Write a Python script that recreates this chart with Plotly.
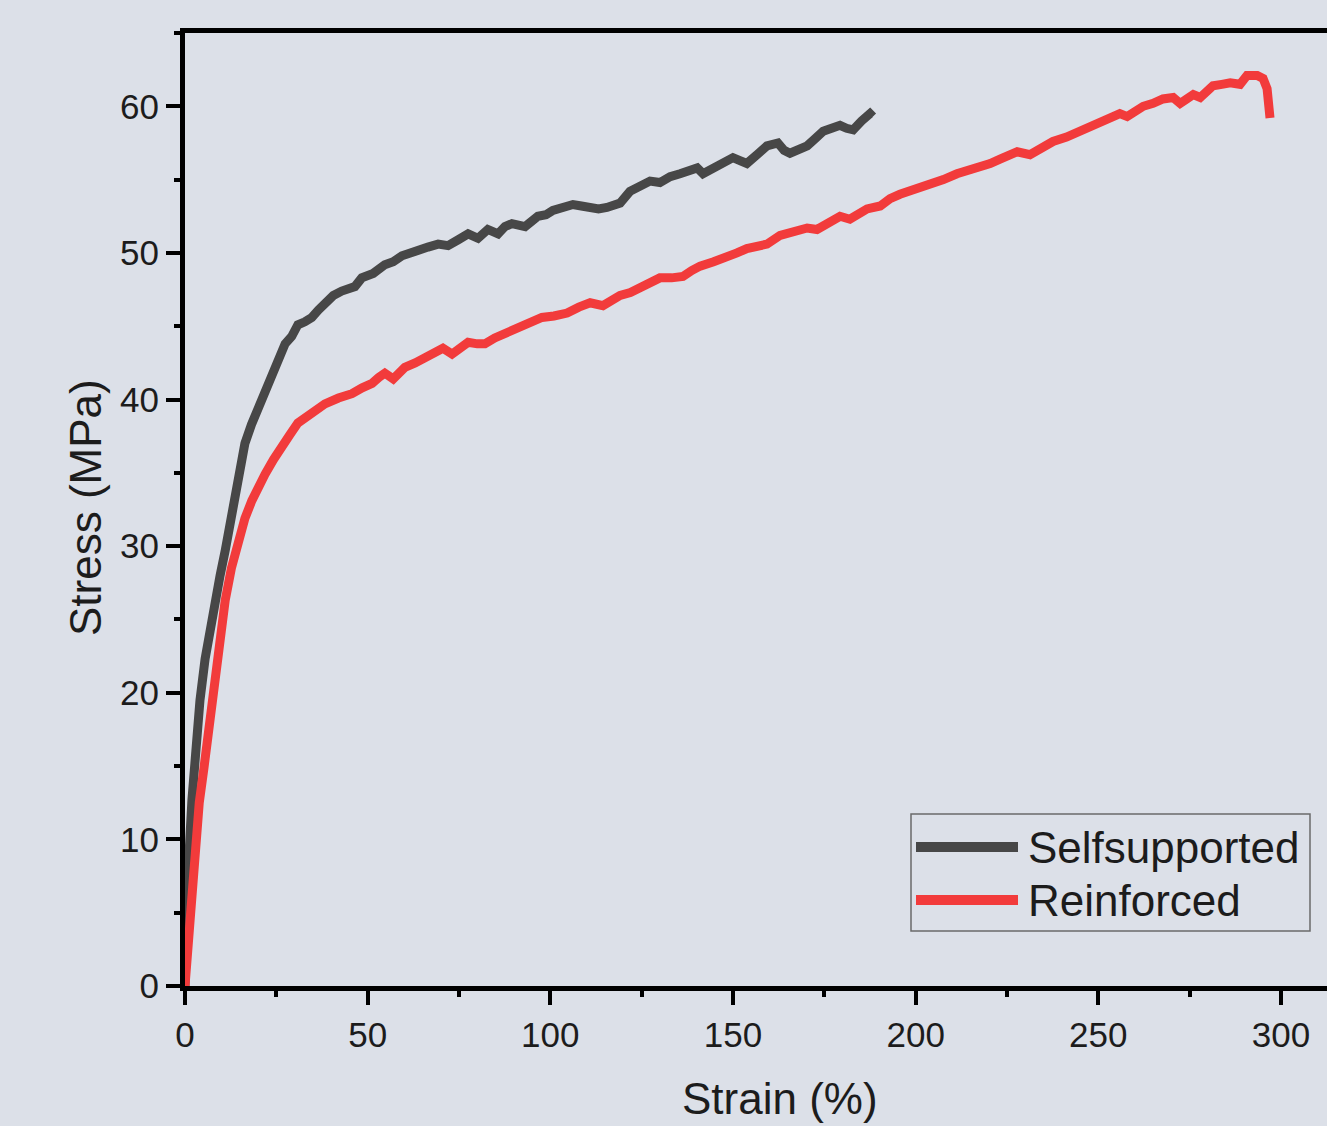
import plotly.graph_objects as go

# ---------------- data ----------------
series_names = ["Selfsupported", "Reinforced"]
series_colors = ["#474747", "#f23b3b"]

ss_strain = [0, 0.4, 1.0, 1.9, 3.0, 4.1, 5.5, 7.0, 8.2, 9.6, 11.0, 12.4, 13.7, 15.0, 16.4, 18.2,
             20.0, 21.9, 23.8, 25.6, 27.4, 29.2, 30.9, 32.8, 34.7, 36.5, 38.3, 40.6, 42.9, 44.7,
             46.5, 48.4, 51.5, 54.7, 57.0, 59.4, 61.6, 63.8, 66.5, 69.3, 72.0, 74.8, 77.5, 80.2,
             82.9, 85.7, 87.6, 89.5, 91.3, 93.1, 96.6, 98.8, 100.7, 103.5, 106.2, 108.5, 110.9,
             113.2, 115.5, 117.3, 119.1, 121.8, 124.6, 127.3, 130.0, 132.8, 135.5, 137.8, 140.2,
             141.8, 144.1, 146.5, 148.3, 150.0, 151.9, 153.8, 156.6, 159.3, 162.3, 164.0, 165.6,
             168.0, 170.3, 172.5, 174.7, 177.0, 179.3, 181.1, 182.9, 185.2, 187.5, 188.3]
ss_stress = [0, 4.5, 8.5, 12.7, 16.3, 19.5, 22.3, 24.6, 26.3, 28.0, 29.7, 31.8, 33.8, 35.5, 37.0, 38.3,
             39.4, 40.7, 41.8, 42.9, 43.8, 44.3, 45.1, 45.3, 45.6, 46.1, 46.5, 47.1, 47.4, 47.5,
             47.7, 48.3, 48.6, 49.2, 49.4, 49.8, 50.0, 50.3, 50.4, 50.6, 50.5, 50.9, 51.3, 51.0,
             51.6, 51.3, 51.8, 52.0, 51.9, 51.8, 52.5, 52.6, 52.9, 53.1, 53.3, 53.2, 53.1,
             53.0, 53.1, 53.2, 53.4, 54.2, 54.5, 54.9, 54.8, 55.2, 55.4, 55.6, 55.8,
             55.4, 55.7, 55.9, 56.2, 56.5, 56.3, 56.1, 56.7, 57.3, 57.5, 57.0, 56.8,
             57.0, 57.3, 57.8, 58.3, 58.5, 58.7, 58.5, 58.4, 59.0, 59.5, 59.3]

rf_strain = [0, 0.9, 1.8, 2.7, 3.9, 5.2, 7.0, 8.7, 11.0, 12.7, 14.5, 16.4, 18.3, 20.1, 21.9, 24.2,
             26.6, 28.7, 30.9, 34.6, 38.3, 42.0, 45.7, 48.5, 51.2, 53.0, 54.7, 57.0, 58.6, 60.2,
             63.0, 65.7, 68.2, 70.6, 73.1, 75.3, 77.5, 80.0, 82.1, 84.8, 87.6, 91.2, 94.5, 97.7,
             101.0, 104.6, 107.8, 110.9, 114.4, 116.8, 119.1, 121.9, 124.6, 127.3, 130.0, 133.2,
             136.3, 138.7, 141.0, 144.7, 148.4, 151.1, 153.8, 156.6, 159.3, 162.9, 166.6, 170.3,
             173.0, 176.2, 179.3, 182.0, 184.4, 186.7, 190.3, 193.0, 195.7, 199.8, 203.9, 207.6,
             211.3, 214.5, 217.6, 220.4, 223.1, 225.5, 227.8, 231.3, 234.5, 237.6, 241.3, 245.0,
             248.7, 252.4, 255.9, 257.9, 260.1, 262.3, 265.0, 267.7, 270.5, 272.4, 274.2, 276.0,
             277.9, 279.7, 281.4, 283.8, 286.1, 288.8, 290.7, 293.5, 295.1, 296.2, 296.5, 297.0]
rf_stress = [0, 3.0, 5.9, 10.0, 12.5, 14.9, 18.5, 21.7, 26.3, 28.5, 30.4, 31.9, 33.1, 34.1, 34.9, 35.9,
             36.7, 37.6, 38.4, 39.1, 39.7, 40.1, 40.4, 40.8, 41.1, 41.5, 41.8, 41.4, 41.9, 42.2,
             42.5, 42.8, 43.1, 43.5, 43.1, 43.6, 43.9, 43.8, 43.8, 44.2, 44.5, 44.8, 45.2, 45.6,
             45.7, 45.9, 46.3, 46.6, 46.4, 46.8, 47.1, 47.3, 47.6, 48.0, 48.3, 48.3,
             48.4, 48.8, 49.1, 49.4, 49.7, 50.0, 50.3, 50.4, 50.6, 51.2, 51.4, 51.7,
             51.6, 52.1, 52.5, 52.3, 52.7, 53.0, 53.2, 53.7, 54.0, 54.3, 54.6, 55.0,
             55.4, 55.6, 55.8, 56.1, 56.4, 56.6, 56.9, 56.7, 57.2, 57.6, 57.9, 58.3,
             58.8, 59.2, 59.5, 59.3, 59.7, 60.0, 60.2, 60.5, 60.6, 60.2, 60.5, 60.8,
             60.6, 61.0, 61.4, 61.5, 61.6, 61.5, 62.1, 62.1, 61.9, 61.2, 60.4, 59.2]

x_ticks = [0, 50, 100, 150, 200, 250, 300]
y_ticks = [0, 10, 20, 30, 40, 50, 60]
x_title = "Strain (%)"
y_title = "Stress (MPa)"

# ---------------- layout geometry ----------------
W, H = 1327, 1126
ML, MR, MT, MB = 185, 0, 33, 140
PW, PH = W - ML - MR, H - MT - MB
X_RANGE = [0, 312.6]
Y_RANGE = [0, 65]
BG = "#dce0e8"
FONT = "Liberation Sans, Arial, sans-serif"
TXT = "#1c1c1c"


def px_x(px):
    return (px - ML) / PW


def px_y(py):
    return (H - MB - py) / PH


fig = go.Figure()
for name, color, xs, ys in [
    (series_names[0], series_colors[0], ss_strain, ss_stress),
    (series_names[1], series_colors[1], rf_strain, rf_stress),
]:
    fig.add_trace(go.Scatter(x=xs, y=ys, mode="lines", name=name,
                             line=dict(color=color, width=9), showlegend=False))

axis_common = dict(
    showgrid=False, zeroline=False, showline=True, linecolor="black", linewidth=5,
    ticks="outside", tickcolor="black", tickwidth=4, ticklen=14,
    tickfont=dict(family=FONT, size=35, color=TXT),
)
fig.update_xaxes(range=X_RANGE, tickvals=x_ticks, mirror=True,
                 minor=dict(dtick=25, tick0=0, ticks="outside", ticklen=6, tickwidth=4,
                            tickcolor="black"),
                 **axis_common)
fig.update_yaxes(range=Y_RANGE, tickvals=y_ticks, mirror=False,
                 minor=dict(dtick=5, tick0=0, ticks="outside", ticklen=6, tickwidth=4,
                            tickcolor="black"),
                 **axis_common)

# custom legend (long line samples as in the original)
shapes = [dict(type="rect", xref="paper", yref="paper",
               x0=px_x(911), x1=px_x(1310), y0=px_y(931), y1=px_y(814),
               line=dict(color="#6a6a6a", width=1.5), fillcolor="rgba(0,0,0,0)")]
annotations = []
for i, (name, color) in enumerate(zip(series_names, series_colors)):
    yy = [847, 900][i]
    shapes.append(dict(type="line", xref="paper", yref="paper",
                       x0=px_x(916), x1=px_x(1018), y0=px_y(yy), y1=px_y(yy),
                       line=dict(color=color, width=10)))
    annotations.append(dict(text=name, xref="paper", yref="paper", x=px_x(1026), y=px_y(yy),
                            xanchor="left", yanchor="middle", showarrow=False,
                            font=dict(family=FONT, size=44, color=TXT)))

annotations.append(dict(text=x_title, xref="paper", yref="paper", x=px_x(780), y=px_y(1098),
                        xanchor="center", yanchor="middle", showarrow=False,
                        font=dict(family=FONT, size=44, color=TXT)))
annotations.append(dict(text=y_title, xref="paper", yref="paper", x=px_x(85), y=px_y(508),
                        xanchor="center", yanchor="middle", showarrow=False, textangle=-90,
                        font=dict(family=FONT, size=44, color=TXT)))

fig.update_layout(
    width=W, height=H,
    margin=dict(l=ML, r=MR, t=MT, b=MB, pad=0),
    paper_bgcolor=BG, plot_bgcolor=BG,
    showlegend=False,
    shapes=shapes, annotations=annotations,
    font=dict(family=FONT, color=TXT),
)

fig.write_html("out.html", include_plotlyjs=True)
